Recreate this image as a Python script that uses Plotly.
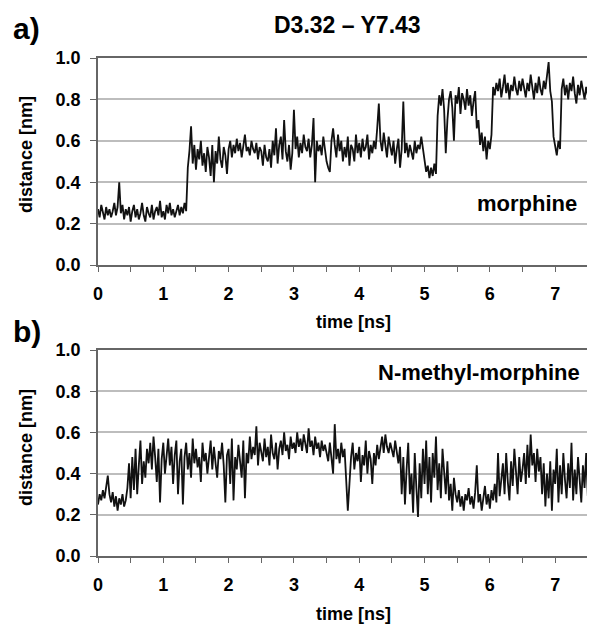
import numpy as np
import plotly.graph_objects as go

# ---------------- data ----------------
time_step_ns = 0.025

dist_morphine = [
    0.27,0.23,0.29,0.25, 0.22,0.28,0.24,0.27, 0.23,0.26,0.30,0.24, 0.28,0.40,0.25,0.29,
    0.22,0.27,0.24,0.28, 0.21,0.26,0.29,0.23, 0.27,0.22,0.25,0.30, 0.24,0.21,0.28,0.25,
    0.23,0.29,0.22,0.26, 0.28,0.24,0.31,0.23, 0.26,0.22,0.29,0.25, 0.30,0.24,0.27,0.23,
    0.26,0.29,0.24,0.28, 0.25,0.30,0.26,0.47, 0.55,0.67,0.49,0.58, 0.46,0.56,0.51,0.60,
    0.48,0.54,0.45,0.57, 0.52,0.43,0.58,0.40, 0.55,0.49,0.62,0.51, 0.47,0.57,0.53,0.44,
    0.56,0.60,0.52,0.58, 0.54,0.61,0.55,0.59, 0.52,0.58,0.63,0.55, 0.57,0.53,0.60,0.56,
    0.54,0.59,0.51,0.57, 0.55,0.48,0.58,0.52, 0.50,0.56,0.47,0.60, 0.53,0.66,0.49,0.58,
    0.62,0.51,0.70,0.55, 0.50,0.58,0.46,0.54, 0.75,0.56,0.62,0.52, 0.59,0.54,0.63,0.57,
    0.55,0.61,0.52,0.58, 0.71,0.40,0.60,0.55, 0.58,0.53,0.62,0.56, 0.50,0.47,0.45,0.60,
    0.66,0.58,0.52,0.63, 0.55,0.60,0.50,0.57, 0.52,0.62,0.48,0.58, 0.56,0.50,0.63,0.54,
    0.59,0.52,0.61,0.55, 0.57,0.63,0.51,0.58, 0.54,0.60,0.56,0.66, 0.78,0.60,0.55,0.64,
    0.58,0.52,0.62,0.57, 0.53,0.60,0.49,0.56, 0.61,0.47,0.56,0.79, 0.54,0.59,0.52,0.58,
    0.55,0.51,0.60,0.54, 0.58,0.56,0.62,0.57, 0.52,0.45,0.48,0.42, 0.47,0.43,0.49,0.44,
    0.72,0.82,0.77,0.85, 0.75,0.54,0.70,0.80, 0.84,0.76,0.60,0.82, 0.78,0.86,0.73,0.83,
    0.80,0.75,0.85,0.77, 0.82,0.72,0.79,0.84, 0.66,0.70,0.58,0.64, 0.55,0.62,0.51,0.60,
    0.56,0.63,0.86,0.82, 0.88,0.84,0.90,0.81, 0.86,0.92,0.83,0.88, 0.80,0.87,0.84,0.91,
    0.85,0.82,0.89,0.84, 0.90,0.86,0.81,0.88, 0.84,0.92,0.86,0.80, 0.88,0.83,0.91,0.85,
    0.82,0.89,0.85,0.93, 0.98,0.84,0.79,0.62, 0.58,0.53,0.60,0.56, 0.85,0.90,0.82,0.87,
    0.80,0.88,0.84,0.91, 0.83,0.78,0.87,0.82, 0.89,0.84,0.80,0.86, 0.82,0.88,0.85,0.79,
    0.84,
]

dist_nmethyl = [
    0.25,0.30,0.27,0.32, 0.28,0.35,0.39,0.30, 0.26,0.31,0.24,0.29, 0.22,0.28,0.25,0.30,
    0.24,0.27,0.33,0.45, 0.28,0.48,0.32,0.52, 0.30,0.44,0.56,0.35, 0.46,0.38,0.52,0.45,
    0.55,0.42,0.58,0.48, 0.36,0.52,0.26,0.47, 0.55,0.40,0.50,0.57, 0.44,0.53,0.35,0.49,
    0.56,0.30,0.46,0.52, 0.25,0.48,0.55,0.42, 0.50,0.38,0.57,0.45, 0.52,0.43,0.48,0.36,
    0.55,0.46,0.50,0.40, 0.48,0.56,0.42,0.53, 0.45,0.38,0.51,0.47, 0.55,0.44,0.26,0.49,
    0.52,0.35,0.57,0.27, 0.48,0.42,0.54,0.46, 0.38,0.56,0.28,0.50, 0.45,0.58,0.47,0.53,
    0.49,0.63,0.44,0.55, 0.50,0.46,0.57,0.48, 0.53,0.44,0.59,0.50, 0.47,0.55,0.42,0.52,
    0.56,0.49,0.60,0.51, 0.54,0.47,0.58,0.52, 0.55,0.50,0.60,0.53, 0.57,0.51,0.59,0.54,
    0.50,0.62,0.53,0.56, 0.49,0.58,0.52,0.55, 0.48,0.56,0.51,0.54, 0.50,0.46,0.55,0.48,
    0.40,0.64,0.47,0.52, 0.45,0.55,0.48,0.52, 0.38,0.22,0.35,0.48, 0.55,0.42,0.50,0.46,
    0.53,0.36,0.49,0.44, 0.56,0.40,0.51,0.47, 0.35,0.50,0.44,0.54, 0.47,0.52,0.58,0.50,
    0.59,0.53,0.50,0.55, 0.52,0.48,0.56,0.50, 0.45,0.53,0.30,0.48, 0.25,0.42,0.55,0.30,
    0.40,0.21,0.50,0.33, 0.19,0.45,0.28,0.52, 0.35,0.56,0.30,0.48, 0.26,0.50,0.38,0.58,
    0.32,0.45,0.28,0.52, 0.40,0.30,0.46,0.27, 0.35,0.22,0.38,0.30, 0.26,0.32,0.24,0.29,
    0.22,0.30,0.27,0.33, 0.25,0.29,0.23,0.31, 0.44,0.26,0.30,0.22, 0.28,0.34,0.25,0.30,
    0.23,0.32,0.27,0.35, 0.26,0.50,0.29,0.38, 0.45,0.30,0.50,0.36, 0.27,0.46,0.34,0.52,
    0.40,0.30,0.48,0.36, 0.42,0.50,0.35,0.54, 0.38,0.59,0.44,0.50, 0.36,0.52,0.41,0.48,
    0.30,0.45,0.24,0.40, 0.28,0.46,0.22,0.42, 0.35,0.52,0.26,0.44, 0.30,0.50,0.37,0.28,
    0.45,0.33,0.55,0.27, 0.42,0.30,0.48,0.36, 0.26,0.44,0.33,0.50, 0.29,0.40,0.35,0.24,
    0.38,
]

panel_labels = ["a)", "b)"]
main_title = "D3.32 – Y7.43"
ligand_labels = ["morphine", "N-methyl-morphine"]
y_title = "distance [nm]"
x_title = "time [ns]"
y_ticks = [0.0, 0.2, 0.4, 0.6, 0.8, 1.0]
x_ticks = [0, 1, 2, 3, 4, 5, 6, 7]

t_a = np.round(np.arange(len(dist_morphine)) * time_step_ns, 4)
t_b = np.round(np.arange(len(dist_nmethyl)) * time_step_ns, 4)

# ---------------- figure ----------------
# the page body has an 8px default margin; size the figure so it fills the window
OFF = 8
W, H = 595 - OFF, 625 - OFF
FONT = "Liberation Sans, Arial, Helvetica, sans-serif"

def px_x(p):
    return (p - OFF) / W

def px_y(p):
    return 1 - (p - OFF) / H

fig = go.Figure()
fig.add_trace(go.Scatter(x=t_a, y=dist_morphine, mode="lines",
                         line=dict(color="#111111", width=1.8), xaxis="x", yaxis="y",
                         showlegend=False, hoverinfo="skip"))
fig.add_trace(go.Scatter(x=t_b, y=dist_nmethyl, mode="lines",
                         line=dict(color="#111111", width=1.8), xaxis="x2", yaxis="y2",
                         showlegend=False, hoverinfo="skip"))

x_dom = [px_x(98), 1.0]
ya_dom = [px_y(265), px_y(58)]
yb_dom = [px_y(556), px_y(350)]

tickfont = dict(family=FONT, size=18, color="black", weight="bold")

def xaxis_cfg(anchor):
    return dict(domain=x_dom, anchor=anchor, range=[0, 7.61], tickvals=x_ticks,
                ticks="outside", ticklen=5, tickcolor="#666", tickwidth=1,
                minor=dict(dtick=0.5, tick0=0, ticks="outside", ticklen=5,
                           tickcolor="#666", tickwidth=1, showgrid=False),
                showline=True, linecolor="#666", linewidth=1.5, mirror=True,
                showgrid=False, zeroline=False, tickfont=tickfont,
                ticklabelstandoff=7, automargin=False, fixedrange=True)

def yaxis_cfg(anchor, dom):
    return dict(domain=dom, anchor=anchor, range=[0, 1.0], tickvals=y_ticks,
                tickformat=".1f", ticks="outside", ticklen=6, tickcolor="#666",
                showline=True, linecolor="#666", linewidth=1.5,
                showgrid=True, gridcolor="#bdbdbd", gridwidth=1.5,
                zeroline=False, tickfont=tickfont, ticklabelstandoff=6,
                automargin=False, fixedrange=True)

fig.update_layout(
    width=W, height=H,
    margin=dict(l=0, r=0, t=0, b=0, autoexpand=False),
    paper_bgcolor="white", plot_bgcolor="white",
    xaxis=xaxis_cfg("y"), yaxis=yaxis_cfg("x", ya_dom),
    xaxis2=xaxis_cfg("y2"), yaxis2=yaxis_cfg("x2", yb_dom),
    showlegend=False,
)

ann = []
def A(text, x, y, size, angle=0, xanchor="center"):
    ann.append(dict(text=text, x=px_x(x), y=px_y(y), xref="paper", yref="paper",
                    showarrow=False, textangle=angle, xanchor=xanchor, yanchor="middle",
                    font=dict(family=FONT, size=size, color="black", weight="bold")))

A(panel_labels[0], 11, 29, 30, xanchor="left")
A(panel_labels[1], 11, 331, 30, xanchor="left")
A(main_title, 347, 25, 23)
A(ligand_labels[0], 527, 203, 22)
A(ligand_labels[1], 479, 372, 22)
A(x_title, 353, 322, 18)
A(x_title, 353, 614, 18)
A(y_title, 26, 155, 18, angle=-90)
A(y_title, 26, 448, 18, angle=-90)
fig.update_layout(annotations=ann)

fig.write_html("out.html")
